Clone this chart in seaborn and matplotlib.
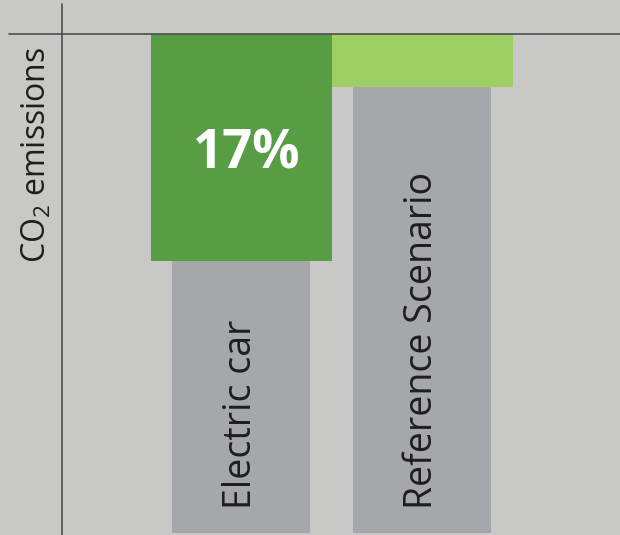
import matplotlib
matplotlib.use("Agg")
import matplotlib.pyplot as plt
import seaborn as sns
import pandas as pd

categories = ["Electric car", "Reference Scenario"]
total_values = [100, 100]
green_values = [45.5, 10.6]
green_colors = ["#569d44", "#9dcf65"]
bar_label = "17%"
y_label = "CO$_2$ emissions"

BG = "#c8c8c6"
GRAY = "#a6a7aa"
LINE = "#4d4d4d"

sns.set_theme(style="white")
plt.rcParams["font.family"] = ["Open Sans", "DejaVu Sans"]
plt.rcParams["mathtext.fontset"] = "custom"
plt.rcParams["mathtext.rm"] = "Open Sans"

W, H = 620, 535
fig = plt.figure(figsize=(W / 100, H / 100), dpi=100, facecolor=BG)
ax = fig.add_axes([0, 0, 1, 1])
ax.set_facecolor(BG)

df_total = pd.DataFrame({"cat": categories, "val": total_values})
df_green = pd.DataFrame({"cat": categories, "val": green_values})

sns.barplot(data=df_total, x="cat", y="val", color=GRAY, width=0.757,
            saturation=1, linewidth=0, ax=ax, zorder=2)
sns.barplot(data=df_green, x="cat", y="val", hue="cat", palette=green_colors,
            width=1.0, saturation=1, linewidth=0, legend=False, ax=ax, zorder=3)

# pixel mapping
px_per_x = 181.0
x0_px = 241.0
y0_px = 34.0
px_per_y = 4.99
ax.set_xlim(-x0_px / px_per_x, (W - x0_px) / px_per_x)
ax.set_ylim((H - y0_px) / px_per_y, -y0_px / px_per_y)

for s in ax.spines.values():
    s.set_visible(False)
ax.set_xticks([])
ax.set_yticks([])
ax.set_xlabel("")
ax.set_ylabel("")

# cross-hair axis lines
ax.axhline(0, xmin=9 / W, xmax=1, color=LINE, lw=1.2, zorder=5)
ax.axvline((62 - x0_px) / px_per_x, ymin=0, ymax=1 - 4 / H, color=LINE, lw=1.2, zorder=5)

# labels in bars
for i, cat in enumerate(categories):
    ax.text(i, 95.2, cat, rotation=90, ha="center", va="bottom",
            fontsize=27, color="#1e1e1e", zorder=6)

ax.text(0.03, 24.2, bar_label, ha="center", va="center", fontsize=38,
        fontweight="bold", color="white", zorder=6)

ax.text(37 / W, 1 - 155 / H, y_label, transform=ax.transAxes, rotation=90,
        ha="center", va="center", fontsize=23, color="#1e1e1e")

fig.savefig("out.png", dpi=100, facecolor=BG)
